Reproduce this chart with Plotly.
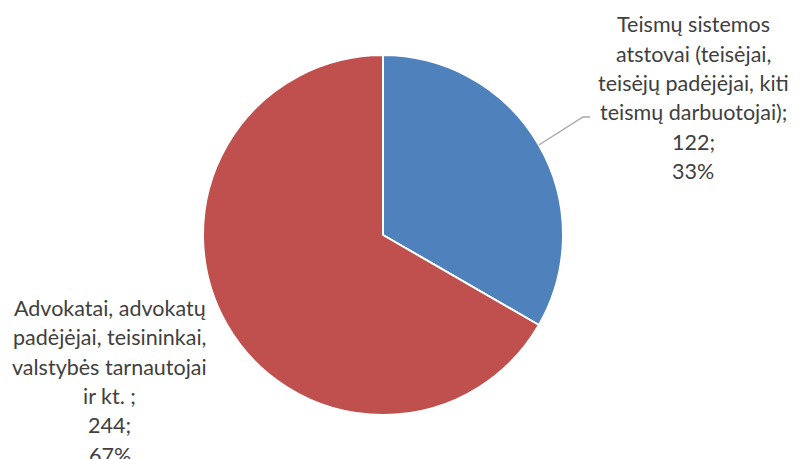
import math
import plotly.graph_objects as go

# duomenys
kategorijos = [
    "Teismų sistemos atstovai (teisėjai, teisėjų padėjėjai, kiti teismų darbuotojai)",
    "Advokatai, advokatų padėjėjai, teisininkai, valstybės tarnautojai ir kt. ",
]
reiksmes = [122, 244]
procentai = ["33%", "67%"]
etikeciu_eilutes = [
    ["Teismų sistemos", "atstovai (teisėjai,", "teisėjų padėjėjai, kiti",
     "teismų darbuotojai);", "122;", "33%"],
    ["Advokatai, advokatų", "padėjėjai, teisininkai,", "valstybės tarnautojai",
     "ir kt. ;", "244;", "67%"],
]
spalvos = ["#4F81BD", "#C0504D"]

W, H = 804, 459
CX, CY, R = 383, 235, 180          # pyrago centras ir spindulys (px)
TEKSTAS = "#404040"
SRIFTAS = "Lato, 'Open Sans', sans-serif"
ZINGSNIS = 29.3

fig = go.Figure(go.Pie(
    labels=kategorijos, values=reiksmes, sort=False, direction="clockwise",
    rotation=0, textinfo="none", hoverinfo="label+value+percent",
    marker=dict(colors=spalvos, line=dict(color="white", width=2)),
    domain=dict(x=[(CX - R) / W, (CX + R) / W],
                y=[(H - CY - R) / H, (H - CY + R) / H]),
))


def px2paper(x, y):
    return x / W, 1 - y / H


# etikečių eilutės (kiekviena atskirai, kad tarpai būtų kaip originale)
pradzia = [(693, 24.5), (110, 308)]
for eil, (x0, y0) in zip(etikeciu_eilutes, pradzia):
    for i, t in enumerate(eil):
        px, py = px2paper(x0, y0 + i * ZINGSNIS)
        fig.add_annotation(x=px, y=py, xref="paper", yref="paper", text=t,
                           showarrow=False, xanchor="center", yanchor="middle",
                           font=dict(family=SRIFTAS, size=21.5, color=TEKSTAS))

# vedamoji linija nuo mėlyno sektoriaus vidurio
kampas = math.radians(360 * reiksmes[0] / sum(reiksmes) / 2)
x1, y1 = CX + R * math.sin(kampas), CY - R * math.cos(kampas)
x2, y2 = 583, 117
x3 = 590
a, b, c = px2paper(x1, y1), px2paper(x2, y2), px2paper(x3, y2)
fig.add_shape(type="path", xref="paper", yref="paper",
              path=f"M {a[0]} {a[1]} L {b[0]} {b[1]} L {c[0]} {c[1]}",
              line=dict(color="#A6A6A6", width=1.3))

fig.update_layout(
    width=W, height=H, margin=dict(l=0, r=0, t=0, b=0),
    showlegend=False, paper_bgcolor="white", plot_bgcolor="white",
    font=dict(family=SRIFTAS, color=TEKSTAS),
)
fig.write_html("out.html", config={"displayModeBar": False},
               post_script="document.body.style.margin='0';")
